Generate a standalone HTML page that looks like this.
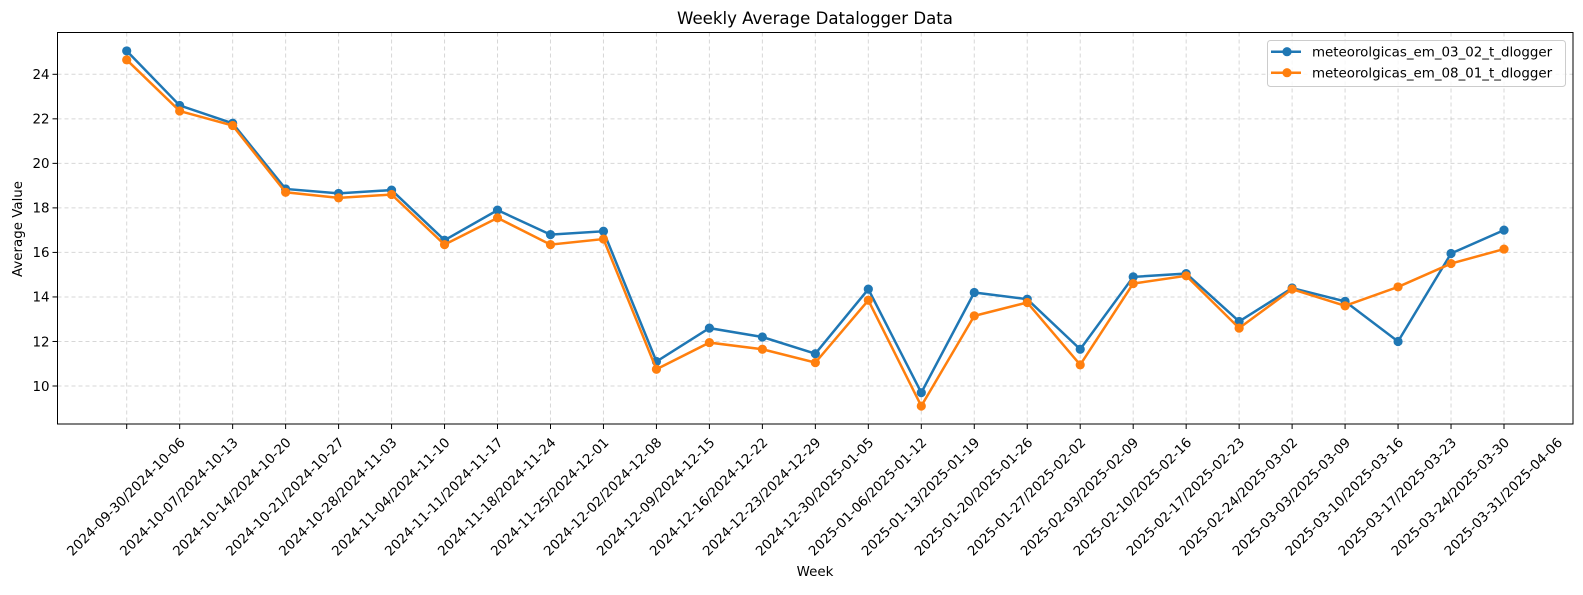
<!DOCTYPE html>
<html><head><meta charset="utf-8"><style>
body{margin:0;background:#fff;}
svg text{font-family:"DejaVu Sans","Liberation Sans",sans-serif;fill:#000;}
</style></head><body>
<svg id="chart" width="1583" height="590" xmlns="http://www.w3.org/2000/svg">
<rect width="1583" height="590" fill="#fff"/>
<g id="grid"></g>
<g id="ticks"></g>
<g id="series"></g>
<rect x="57.5" y="32.5" width="1515.5" height="391.5" fill="none" stroke="#000" stroke-width="1"/>
<text x="815" y="24" font-size="16.6" text-anchor="middle">Weekly Average Datalogger Data</text>
<text x="815" y="576" font-size="13.4" text-anchor="middle">Week</text>
<text transform="translate(22,229) rotate(-90)" font-size="13.4" text-anchor="middle">Average Value</text>
<g>
<rect x="1267.5" y="40.5" width="298" height="46" rx="3" fill="#fff" fill-opacity="0.8" stroke="#ccc"/>
<g>
<line x1="1271" y1="51.7" x2="1301" y2="51.7" stroke="#1f77b4" stroke-width="2.5"/><circle cx="1287" cy="51.7" r="4.6" fill="#1f77b4"/>
<text x="1312" y="56.5" font-size="13.4">meteorolgicas_em_03_02_t_dlogger</text></g>
<g>
<line x1="1271" y1="72.7" x2="1301" y2="72.7" stroke="#ff7f0e" stroke-width="2.5"/><circle cx="1287" cy="72.7" r="4.6" fill="#ff7f0e"/>
<text x="1312" y="77.5" font-size="13.4">meteorolgicas_em_08_01_t_dlogger</text></g>
</g>
</svg>
<script>
const categories=["2024-09-30/2024-10-06","2024-10-07/2024-10-13","2024-10-14/2024-10-20","2024-10-21/2024-10-27","2024-10-28/2024-11-03","2024-11-04/2024-11-10","2024-11-11/2024-11-17","2024-11-18/2024-11-24","2024-11-25/2024-12-01","2024-12-02/2024-12-08","2024-12-09/2024-12-15","2024-12-16/2024-12-22","2024-12-23/2024-12-29","2024-12-30/2025-01-05","2025-01-06/2025-01-12","2025-01-13/2025-01-19","2025-01-20/2025-01-26","2025-01-27/2025-02-02","2025-02-03/2025-02-09","2025-02-10/2025-02-16","2025-02-17/2025-02-23","2025-02-24/2025-03-02","2025-03-03/2025-03-09","2025-03-10/2025-03-16","2025-03-17/2025-03-23","2025-03-24/2025-03-30","2025-03-31/2025-04-06"];
const seriesA=[25.05,22.6,21.8,18.85,18.65,18.8,16.55,17.9,16.8,16.95,11.1,12.6,12.2,11.45,14.35,9.7,14.2,13.9,11.65,14.9,15.05,12.9,14.4,13.8,12.0,15.95,17.0];
const seriesB=[24.65,22.35,21.7,18.7,18.45,18.6,16.35,17.55,16.35,16.6,10.75,11.95,11.65,11.05,13.85,9.1,13.15,13.75,10.95,14.6,14.95,12.6,14.35,13.6,14.45,15.5,16.15];
const yTicks=[10,12,14,16,18,20,22,24];
const NS="http://www.w3.org/2000/svg";
const X0=126.7,X1=1504,PL=57.5,PR=1573,PT=32.5,PB=424;
function xs(i){return X0+(X1-X0)*i/(categories.length-1);}
function ys(v){return 386-(v-10)*(386-74.3)/14;}
function mk(t,a,p){const e=document.createElementNS(NS,t);for(const k in a)e.setAttribute(k,a[k]);p.appendChild(e);return e;}
const grid=document.getElementById('grid'),ticks=document.getElementById('ticks'),ser=document.getElementById('series');
yTicks.forEach(v=>{const y=ys(v);
 const g=mk('line',{x1:PL,x2:PR,y1:y,y2:y,stroke:'#b0b0b0','stroke-opacity':0.5,'stroke-dasharray':'4,3'},grid);
 
 
 mk('line',{x1:PL-5,x2:PL,y1:y,y2:y,stroke:'#000'},ticks);
 const t=mk('text',{x:PL-8,y:y+4.8,'font-size':13.4,'text-anchor':'end'},ticks);t.textContent=v;
 
 
});
categories.forEach((c,i)=>{const x=xs(i);
 const g=mk('line',{x1:x,x2:x,y1:PT,y2:PB,stroke:'#b0b0b0','stroke-opacity':0.5,'stroke-dasharray':'4,3'},grid);
 
 
 mk('line',{x1:x,x2:x,y1:PB,y2:PB+5,stroke:'#000'},ticks);
 const t=mk('text',{transform:`translate(${x},497.5) rotate(-45)`,'font-size':13.4,'text-anchor':'middle','dominant-baseline':'central'},ticks);t.textContent=c;
 
 
});
[[seriesA,'#1f77b4','series-em-03-02'],[seriesB,'#ff7f0e','series-em-08-01']].forEach(([d,col,name])=>{
 const g=mk('g',{},ser);
 
 
 const p=mk('polyline',{points:d.map((v,i)=>xs(i)+','+ys(v)).join(' '),fill:'none',stroke:col,'stroke-width':2.5},g);
 
 
 d.forEach((v,i)=>{const c=mk('circle',{cx:xs(i),cy:ys(v),r:4.6,fill:col},g);
  
  });
});
</script>
</body></html>
